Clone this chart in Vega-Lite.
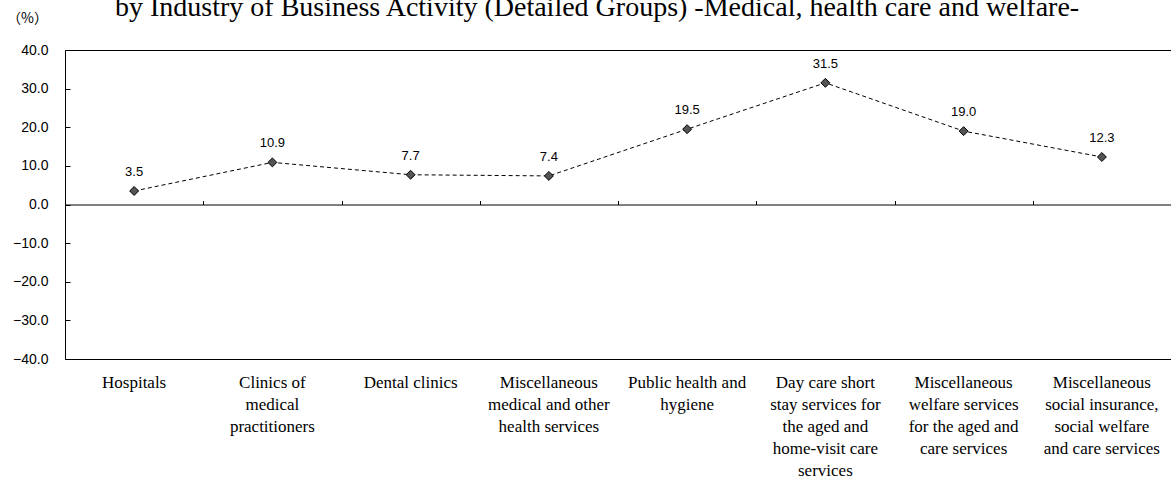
{
  "$schema": "https://vega.github.io/schema/vega-lite/v6.json",
  "width": 1106,
  "height": 309,
  "autosize": {"type": "none"},
  "padding": {"left": 65, "top": 50, "right": 0, "bottom": 121},
  "background": "white",
  "title": {
    "text": "by Industry of Business Activity (Detailed Groups) -Medical, health care and welfare-",
    "font": "Liberation Serif",
    "fontSize": 28,
    "fontWeight": "normal",
    "color": "black",
    "anchor": "start",
    "frame": "group",
    "dx": 50,
    "baseline": "alphabetic",
    "offset": -33
  },
  "config": {
    "view": {"stroke": "black", "strokeWidth": 1},
    "axis": {"grid": false}
  },
  "data": {
    "values": [
      {"industry": "Hospitals", "rate": 3.5},
      {"industry": "Clinics of|medical|practitioners", "rate": 10.9},
      {"industry": "Dental clinics", "rate": 7.7},
      {"industry": "Miscellaneous|medical and other|health services", "rate": 7.4},
      {"industry": "Public health and|hygiene", "rate": 19.5},
      {"industry": "Day care short|stay services for|the aged and|home-visit care|services", "rate": 31.5},
      {"industry": "Miscellaneous|welfare services|for the aged and|care services", "rate": 19.0},
      {"industry": "Miscellaneous|social insurance,|social welfare|and care services", "rate": 12.3}
    ]
  },
  "encoding": {
    "x": {"field": "industry", "type": "nominal", "sort": null, "scale": {"paddingInner": 0, "paddingOuter": 0}},
    "y": {"field": "rate", "type": "quantitative", "scale": {"domain": [-40, 40], "nice": false, "zero": false}}
  },
  "resolve": {"axis": {"x": "independent", "y": "independent"}},
  "layer": [
    {
      "mark": {"type": "line", "stroke": "black", "strokeWidth": 1, "strokeDash": [4, 3]},
      "encoding": {
        "x": {"field": "industry", "type": "nominal", "sort": null, "title": null,
          "axis": {"orient": "bottom", "domain": false, "ticks": false, "labelAngle": 0,
            "labelExpr": "split(datum.label, '|')", "labelFont": "Liberation Serif", "labelFontSize": 17,
            "labelLineHeight": 22, "labelColor": "black", "labelPadding": 15, "labelLimit": 300}},
        "y": {"field": "rate", "type": "quantitative",
          "axis": {"orient": "left", "values": [-40, -30, -20, -10, 0, 10, 20, 30, 40], "format": ".1f", "domain": false,
            "labelOverlap": false, "ticks": false, "labelPadding": 17,
            "labelFont": "Liberation Sans", "labelFontSize": 14, "labelColor": "black",
            "title": "（%）", "titleAngle": 0, "titleX": -38, "titleY": -32, "titleAlign": "center",
            "titleBaseline": "middle", "titleFont": "Noto Sans CJK JP", "titleFontSize": 14,
            "titleFontWeight": "normal", "titleColor": "black"}}
      }
    },
    {
      "mark": {"type": "point", "shape": "diamond", "filled": true, "fill": "#555555", "stroke": "black", "strokeWidth": 1, "size": 80, "opacity": 1},
      "encoding": {
        "x": {"field": "industry", "type": "nominal", "sort": null, "title": null,
          "axis": {"orient": "top", "offset": -154.5, "labels": false, "domain": true, "domainColor": "black",
            "ticks": true, "tickBand": "extent", "tickSize": 4, "tickColor": "black"}},
        "y": {"field": "rate", "type": "quantitative", "title": null,
          "axis": {"orient": "right", "offset": -1106, "values": [-40, -30, -20, -10, 0, 10, 20, 30, 40],
            "labels": false, "domain": false, "ticks": true, "tickSize": 5, "tickColor": "black"}}
      }
    },
    {
      "mark": {"type": "text", "dy": -15, "baseline": "alphabetic", "font": "Liberation Sans", "fontSize": 13, "color": "black"},
      "encoding": {
        "x": {"field": "industry", "type": "nominal", "sort": null, "axis": null},
        "y": {"field": "rate", "type": "quantitative", "axis": null},
        "text": {"field": "rate", "type": "quantitative", "format": ".1f"}
      }
    }
  ]
}
